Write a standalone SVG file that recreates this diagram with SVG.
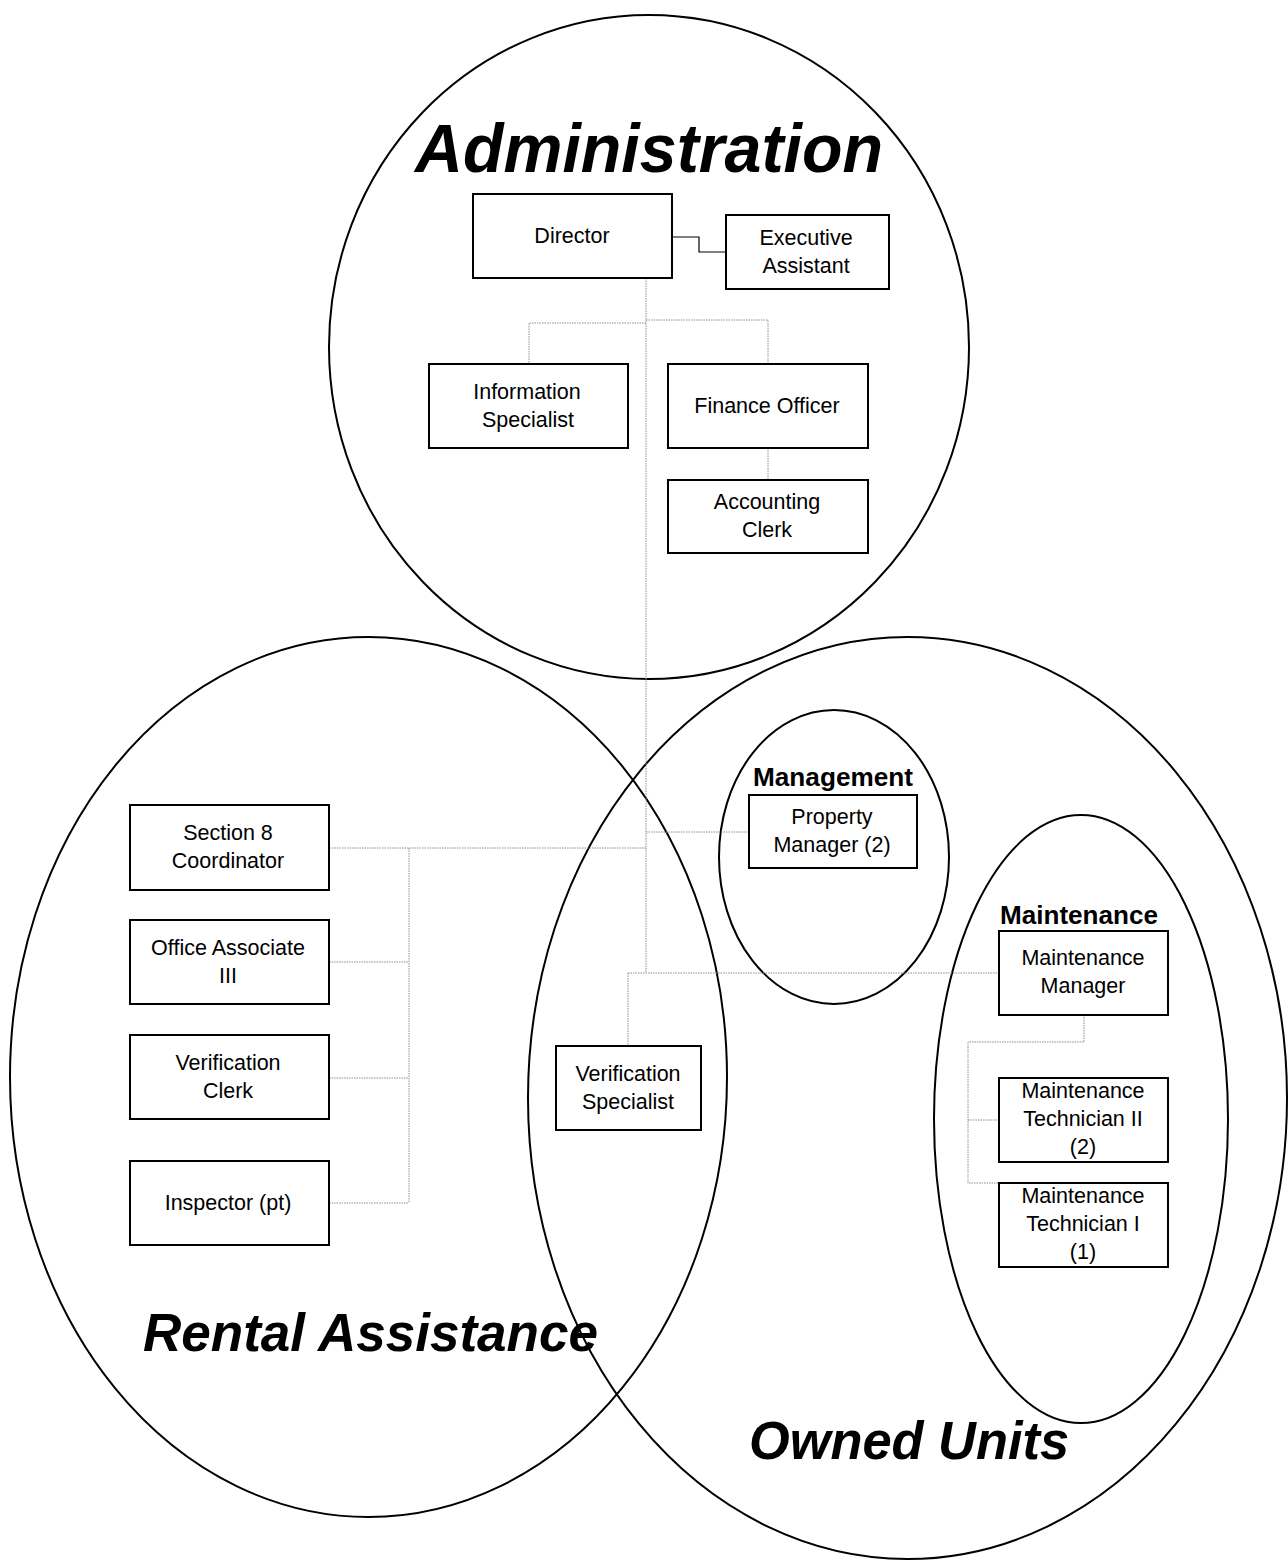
<svg xmlns="http://www.w3.org/2000/svg" width="1288" height="1562" viewBox="0 0 1288 1562">
<style>
.bg{fill:#fff}
.area{fill:none;stroke:#000;stroke-width:2}
.box{fill:#fff;stroke:#000;stroke-width:2}
.dot{fill:none;stroke:#8c8c8c;stroke-width:1;stroke-dasharray:1.5,1}
.solid{fill:none;stroke:#000;stroke-width:1.2}
.t{font-family:"Liberation Sans",Arial,sans-serif;font-size:21.5px;text-anchor:middle;fill:#000}
.title{font-family:"Liberation Sans",Arial,sans-serif;font-weight:bold;font-style:italic;fill:#000}
.sub{font-family:"Liberation Sans",Arial,sans-serif;font-weight:bold;font-size:25px;fill:#000}
</style>
<rect class="bg" x="0" y="0" width="1288" height="1562"/>
<g id="areas">
<ellipse id="area-administration" class="area" cx="649" cy="347" rx="320" ry="332"/>
<ellipse id="area-rental" class="area" cx="368.5" cy="1077" rx="358.5" ry="440"/>
<ellipse id="area-owned" class="area" cx="907.5" cy="1098" rx="379.5" ry="461"/>
<ellipse id="area-management" class="area" cx="834" cy="857" rx="115" ry="147"/>
<ellipse id="area-maintenance" class="area" cx="1081" cy="1119" rx="147" ry="304"/>
</g>
<g id="titles">
<text class="title" x="415" y="172" font-size="68" textLength="468" lengthAdjust="spacingAndGlyphs">Administration</text>
<text class="title" x="143" y="1351" font-size="54" textLength="455" lengthAdjust="spacingAndGlyphs">Rental Assistance</text>
<text class="title" x="749" y="1459" font-size="54" textLength="320" lengthAdjust="spacingAndGlyphs">Owned Units</text>
<text class="sub" x="753" y="786" textLength="160" lengthAdjust="spacingAndGlyphs">Management</text>
<text class="sub" x="1000" y="924" textLength="158" lengthAdjust="spacingAndGlyphs">Maintenance</text>
</g>
<g id="connectors">
<polyline class="solid" points="672,237 699,237 699,252 726,252"/>
<line class="dot" x1="646" y1="278" x2="646" y2="973"/>
<polyline class="dot" points="646,323 529,323 529,364"/>
<polyline class="dot" points="646,320 768,320 768,364"/>
<line class="dot" x1="768" y1="448" x2="768" y2="480"/>
<line class="dot" x1="646" y1="832" x2="749" y2="832"/>
<line class="dot" x1="646" y1="848" x2="329" y2="848"/>
<line class="dot" x1="409" y1="848" x2="409" y2="1203"/>
<line class="dot" x1="329" y1="962" x2="409" y2="962"/>
<line class="dot" x1="329" y1="1078" x2="409" y2="1078"/>
<line class="dot" x1="329" y1="1203" x2="409" y2="1203"/>
<line class="dot" x1="628" y1="973" x2="999" y2="973"/>
<line class="dot" x1="628" y1="973" x2="628" y2="1046"/>
<polyline class="dot" points="1084,1015 1084,1042 968,1042 968,1183 999,1183"/>
<line class="dot" x1="968" y1="1120" x2="999" y2="1120"/>
</g>
<g id="director"><rect class="box" x="473" y="194" width="199" height="84"/><text class="t" x="572" y="243">Director</text></g>
<g id="executive-assistant"><rect class="box" x="726" y="215" width="163" height="74"/><text class="t" x="806" y="245">Executive</text><text class="t" x="806" y="273">Assistant</text></g>
<g id="information-specialist"><rect class="box" x="429" y="364" width="199" height="84"/><text class="t" x="527" y="399">Information</text><text class="t" x="528" y="427">Specialist</text></g>
<g id="finance-officer"><rect class="box" x="668" y="364" width="200" height="84"/><text class="t" x="767" y="413">Finance Officer</text></g>
<g id="accounting-clerk"><rect class="box" x="668" y="480" width="200" height="73"/><text class="t" x="767" y="509">Accounting</text><text class="t" x="767" y="537">Clerk</text></g>
<g id="section8-coordinator"><rect class="box" x="130" y="805" width="199" height="85"/><text class="t" x="228" y="840">Section 8</text><text class="t" x="228" y="868">Coordinator</text></g>
<g id="office-associate"><rect class="box" x="130" y="920" width="199" height="84"/><text class="t" x="228" y="955">Office Associate</text><text class="t" x="228" y="983">III</text></g>
<g id="verification-clerk"><rect class="box" x="130" y="1035" width="199" height="84"/><text class="t" x="228" y="1070">Verification</text><text class="t" x="228" y="1098">Clerk</text></g>
<g id="inspector"><rect class="box" x="130" y="1161" width="199" height="84"/><text class="t" x="228" y="1210">Inspector (pt)</text></g>
<g id="verification-specialist"><rect class="box" x="556" y="1046" width="145" height="84"/><text class="t" x="628" y="1081">Verification</text><text class="t" x="628" y="1109">Specialist</text></g>
<g id="property-manager"><rect class="box" x="749" y="795" width="168" height="73"/><text class="t" x="832" y="824">Property</text><text class="t" x="832" y="852">Manager (2)</text></g>
<g id="maintenance-manager"><rect class="box" x="999" y="931" width="169" height="84"/><text class="t" x="1083" y="965">Maintenance</text><text class="t" x="1083" y="993">Manager</text></g>
<g id="maintenance-tech-2"><rect class="box" x="999" y="1078" width="169" height="84"/><text class="t" x="1083" y="1098">Maintenance</text><text class="t" x="1083" y="1126">Technician II</text><text class="t" x="1083" y="1154">(2)</text></g>
<g id="maintenance-tech-1"><rect class="box" x="999" y="1183" width="169" height="84"/><text class="t" x="1083" y="1203">Maintenance</text><text class="t" x="1083" y="1231">Technician I</text><text class="t" x="1083" y="1259">(1)</text></g>
</svg>
